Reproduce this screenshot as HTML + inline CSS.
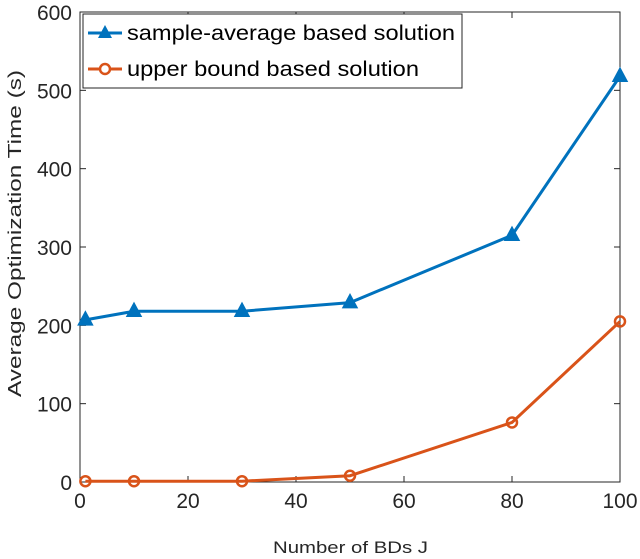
<!DOCTYPE html>
<html><head><meta charset="utf-8"><style>
body{margin:0;background:#fff;}
svg{display:block;font-family:"Liberation Sans",sans-serif;}
</style></head><body>
<svg id="chart" width="640" height="559"></svg>
<script>
const xValues=[1,10,30,50,80,100];
const sampleAverage=[207,218,218,229,315,518];
const upperBound=[1,1,1,8,76,205];
const xTicks=[0,20,40,60,80,100];
const yTicks=[0,100,200,300,400,500,600];
const seriesNames=["sample-average based solution","upper bound based solution"];

const L=80,R=620,T=12,B=482;
const sx=v=>L+(v-0)/(100-0)*(R-L);
const sy=v=>B-(v-0)/(600-0)*(B-T);
const NS="http://www.w3.org/2000/svg";
const svg=document.getElementById('chart');
function mk(tag,attrs,parent){const e=document.createElementNS(NS,tag);for(const k in attrs)e.setAttribute(k,attrs[k]);(parent||svg).appendChild(e);return e;}

const box=mk('rect',{x:L,y:T,width:R-L,height:B-T,fill:'none',stroke:'#262626','stroke-width':1});



xTicks.forEach(t=>{
  const x=sx(t);
  mk('line',{x1:x,y1:B,x2:x,y2:B-6,stroke:'#262626'});
  mk('line',{x1:x,y1:T,x2:x,y2:T+6,stroke:'#262626'});
  const tx=mk('text',{x:x,y:B+26,'text-anchor':'middle','font-size':21,fill:'#262626'});
  tx.textContent=t;
  
  
});
yTicks.forEach(t=>{
  const y=sy(t);
  mk('line',{x1:L,y1:y,x2:L+6,y2:y,stroke:'#262626'});
  mk('line',{x1:R,y1:y,x2:R-6,y2:y,stroke:'#262626'});
  const tx=mk('text',{x:L-8,y:y+8,'text-anchor':'end','font-size':21,fill:'#262626'});
  tx.textContent=t;
  
  
});

const xl=mk('text',{x:273,y:553,'font-size':17,fill:'#262626',textLength:155,lengthAdjust:'spacingAndGlyphs'});
xl.textContent='Number of BDs J';



const yl=mk('text',{x:0,y:0,'font-size':18,fill:'#262626',textLength:327,lengthAdjust:'spacingAndGlyphs',transform:'translate(21,397) rotate(-90)'});
yl.textContent='Average Optimization Time (s)';



function series(vals,color,marker,name){
  const g=mk('g',{});
  
  
  mk('polyline',{points:xValues.map((x,i)=>sx(x)+','+sy(vals[i])).join(' '),fill:'none',stroke:color,'stroke-width':3},g);
  xValues.forEach((x,i)=>{
    const cx=sx(x),cy=sy(vals[i]);
    let m;
    if(marker==='tri') m=mk('polygon',{points:`${cx},${cy-8} ${cx-7},${cy+5} ${cx+7},${cy+5}`,fill:color,stroke:color,'stroke-width':1.5},g);
    else m=mk('circle',{cx:cx,cy:cy,r:5,fill:'none',stroke:color,'stroke-width':2.5},g);
    
    
  });
}
series(sampleAverage,'#0072BD','tri','sample-average-series');
series(upperBound,'#D95319','circ','upper-bound-series');

const lg=mk('g',{});


mk('rect',{x:83,y:14,width:379,height:74,fill:'#fff',stroke:'#262626','stroke-width':1},lg);
const legendWidths=[328,292];
[['#0072BD','tri'],['#D95319','circ']].forEach((s,i)=>{
  const y=33+i*36;
  const e=mk('g',{},lg);
  
  
  mk('line',{x1:88,y1:y,x2:122,y2:y,stroke:s[0],'stroke-width':3},e);
  if(s[1]==='tri') mk('polygon',{points:`105,${y-8} 98,${y+5} 112,${y+5}`,fill:s[0]},e);
  else mk('circle',{cx:105,cy:y,r:5,fill:'#fff',stroke:s[0],'stroke-width':2.5},e);
  const t=mk('text',{x:127,y:y+7,'font-size':21,fill:'#000',textLength:legendWidths[i],lengthAdjust:'spacingAndGlyphs'},e);
  t.textContent=seriesNames[i];
});
</script>
</body></html>
